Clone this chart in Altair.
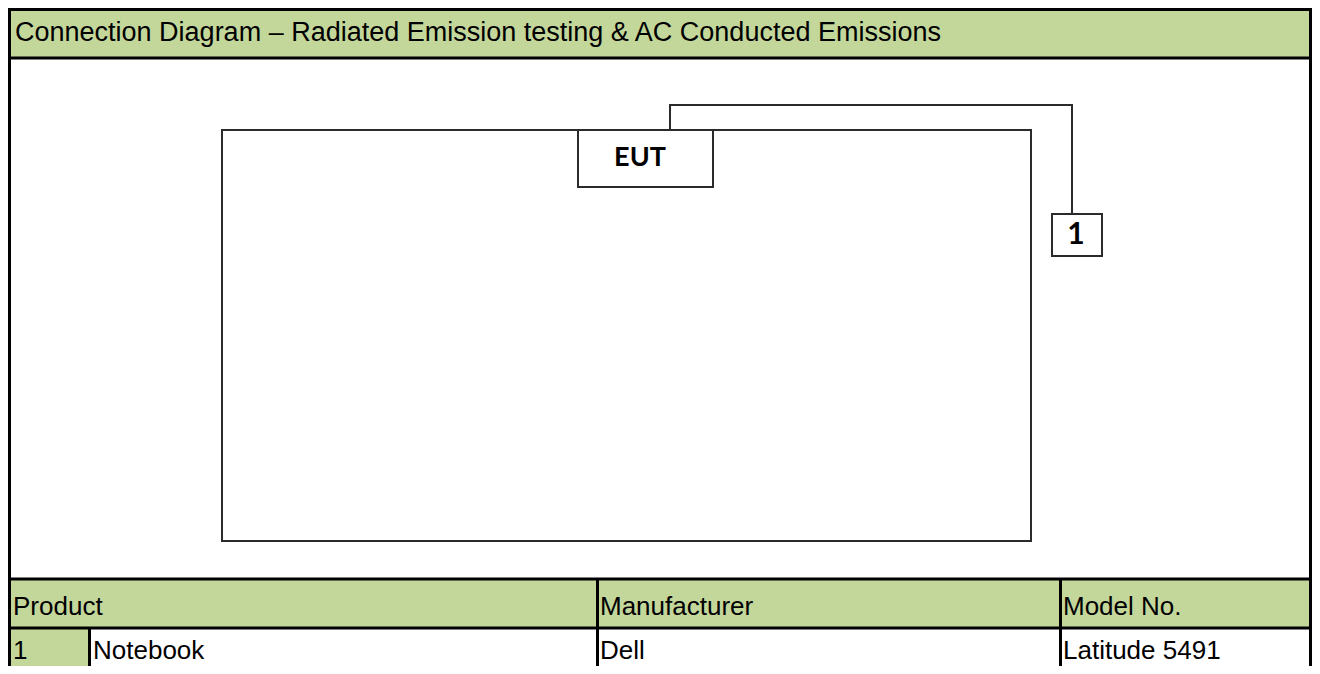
import altair as alt
import pandas as pd

# ---------------- content ----------------
TITLE = "Connection Diagram – Radiated Emission testing & AC Conducted Emissions"
TABLE_HEADERS = ["Product", "Manufacturer", "Model No."]
ROW_NO = ["1"]
PRODUCTS = ["Notebook"]
MANUFACTURERS = ["Dell"]
MODELS = ["Latitude 5491"]
EUT_LABEL = "EUT"
PERIPHERAL_LABELS = ["1"]

# ---------------- layout (page pixels) ----------------
X_MIN, X_MAX = 8, 1312
Y_MIN, Y_MAX = 8, 666
GREEN = "#C4D79B"
LINE = "#2b2b2b"
FONT = "Liberation Sans, Arial, sans-serif"
CAL = "Lato, Carlito, Calibri, sans-serif"

xs = alt.Scale(domain=[X_MIN, X_MAX], nice=False, zero=False)
ys = alt.Scale(domain=[Y_MIN, Y_MAX], nice=False, zero=False, reverse=True)

def X(f):
    return alt.X(f"{f}:Q", scale=xs, axis=None)

def Y(f):
    return alt.Y(f"{f}:Q", scale=ys, axis=None)

# green shaded cells
green_x0 = [8, 8, 8]
green_x1 = [1312, 1312, 89.5]
green_y0 = [8, 579, 628]
green_y1 = [58, 628, 666]
green = pd.DataFrame({"x": green_x0, "x2": green_x1, "y": green_y0, "y2": green_y1})

green_layer = alt.Chart(green).mark_rect(color=GREEN).encode(
    x=X("x"), x2="x2", y=Y("y"), y2="y2")

# diagram boxes: table area, EUT, peripheral 1
box_x0 = [222, 578, 1052]
box_x1 = [1031, 713, 1102]
box_y0 = [130, 130, 214]
box_y1 = [541, 187, 256]
boxes = pd.DataFrame({"x": box_x0, "x2": box_x1, "y": box_y0, "y2": box_y1,
                      "o": [0, 1, 2]})

# cable from EUT to peripheral
cab_x0 = [670, 670, 1072]
cab_x1 = [670, 1072, 1072]
cab_y0 = [130, 105, 105]
cab_y1 = [105, 105, 214]
cable = pd.DataFrame({"x": cab_x0, "x2": cab_x1, "y": cab_y0, "y2": cab_y1})

cable_layer = alt.Chart(cable).mark_rule(color=LINE, strokeWidth=2, strokeCap="square").encode(
    x=X("x"), x2="x2", y=Y("y"), y2="y2")

box_layer = alt.Chart(boxes).mark_rect(fill="white", stroke=LINE, strokeWidth=2).encode(
    x=X("x"), x2="x2", y=Y("y"), y2="y2", order="o:Q")

# table / frame lines
tl_x0 = [9.5, 8, 1310.5, 8, 8, 8, 597.5, 1060.5, 89.5]
tl_x1 = [9.5, 1312, 1310.5, 1312, 1312, 1312, 597.5, 1060.5, 89.5]
tl_y0 = [8, 9.5, 8, 58, 579, 628, 579, 579, 628]
tl_y1 = [666, 9.5, 666, 58, 579, 628, 666, 666, 666]
tlines = pd.DataFrame({"x": tl_x0, "x2": tl_x1, "y": tl_y0, "y2": tl_y1})

tline_layer = alt.Chart(tlines).mark_rule(color="black", strokeWidth=3).encode(
    x=X("x"), x2="x2", y=Y("y"), y2="y2")

# title text
title_df = pd.DataFrame({"label": [TITLE], "x": [15], "y": [41]})
title_layer = alt.Chart(title_df).mark_text(
    align="left", baseline="alphabetic", font=FONT, fontSize=27, color="black"
).encode(x=X("x"), y=Y("y"), text="label:N")

# table texts (Arial-like)
txt = pd.DataFrame({
    "label": TABLE_HEADERS + ROW_NO + PRODUCTS + MANUFACTURERS + MODELS,
    "x": [13, 600, 1063, 13, 93, 600, 1063],
    "y": [615, 615, 615, 659, 659, 659, 659],
})
text_layer = alt.Chart(txt).mark_text(
    align="left", baseline="alphabetic", font=FONT, fontSize=26, color="black"
).encode(x=X("x"), y=Y("y"), text="label:N")

# diagram labels (Calibri-like)
dlab = pd.DataFrame({
    "label": [EUT_LABEL] + PERIPHERAL_LABELS,
    "x": [640, 1076],
    "y": [158, 235],
    "s": [27, 30],
})
dlab_layer = alt.Chart(dlab).mark_text(
    align="center", baseline="middle", font=CAL, fontWeight="bold", color="black"
).encode(x=X("x"), y=Y("y"), text="label:N",
         size=alt.Size("s:Q", scale=None, legend=None))

chart = alt.layer(
    green_layer, cable_layer, box_layer, tline_layer, title_layer, text_layer, dlab_layer
).properties(
    width=X_MAX - X_MIN, height=Y_MAX - Y_MIN, padding=0, autosize="none",
    background="white"
).configure_view(stroke=None)

chart.save("out.html", embed_options={"renderer": "svg", "actions": False})
